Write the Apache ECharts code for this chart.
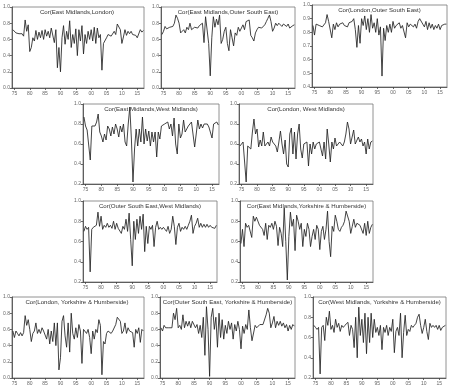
<!DOCTYPE html>
<html>
<head>
<meta charset="utf-8">
<script src="https://cdn.jsdelivr.net/npm/echarts@6/dist/echarts.min.js"></script>
<style>
  html, body { margin: 0; padding: 0; background: #fff; }
  #chart { width: 449px; height: 390px; }
</style>
</head>
<body>
<div id="chart"></div>
<script>
// half-yearly readings, first point 1974.5
const startYear = 1974.5;
const step = 0.5;
const yearTicks = [1975, 1980, 1985, 1990, 1995, 2000, 2005, 2010, 2015];

const titles = [
  'Cor(East Midlands,London)',
  'Cor(East Midlands,Outer South East)',
  'Cor(London,Outer South East)',
  'Cor(East Midlands,West Midlands)',
  'Cor(London, West Midlands)',
  'Cor(Outer South East,West Midlands)',
  'Cor(East Midlands,Yorkshire & Humberside)',
  'Cor(London, Yorkshire & Humberside)',
  'Cor(Outer South East, Yorkshire & Humberside)',
  'Cor(West Midlands, Yorkshire & Humberside)'
];

const emLon = [0.72,0.72,0.68,0.66,0.67,0.65,0.67,0.64,0.84,0.70,0.78,
  0.45,0.50,0.62,0.58,0.71,0.60,0.69,0.62,0.71,0.60,
  0.72,0.64,0.70,0.62,0.74,0.74,0.56,0.72,0.25,0.50,
  0.20,0.62,0.77,0.54,0.70,0.60,0.83,0.50,0.66,0.55,
  0.73,0.40,0.72,0.58,0.77,0.42,0.66,0.55,0.70,0.60,
  0.72,0.58,0.75,0.55,0.74,0.62,0.66,0.22,0.55,0.57,
  0.62,0.66,0.68,0.64,0.63,0.70,0.66,0.79,0.79,0.72,
  0.55,0.63,0.72,0.65,0.70,0.67,0.70,0.66,0.68,0.65,
  0.62,0.63,0.72,0.69,0.71];
const emOse = [0.66,0.70,0.76,0.73,0.74,0.75,0.74,0.76,0.80,0.90,0.86,
  0.80,0.68,0.66,0.72,0.68,0.75,0.72,0.80,0.72,0.74,
  0.75,0.75,0.74,0.77,0.78,0.80,0.56,0.88,0.90,0.55,
  0.15,0.62,0.88,0.75,0.85,0.78,0.90,0.55,0.60,0.70,
  0.75,0.55,0.46,0.72,0.62,0.52,0.68,0.65,0.75,0.70,
  0.68,0.78,0.72,0.82,0.80,0.84,0.65,0.62,0.58,0.68,
  0.72,0.75,0.75,0.74,0.76,0.78,0.82,0.86,0.90,0.82,
  0.70,0.74,0.80,0.77,0.80,0.78,0.76,0.79,0.77,0.76,
  0.79,0.74,0.72,0.77,0.78];
const lonOse = [0.85,0.78,0.86,0.85,0.85,0.85,0.84,0.85,0.87,0.93,0.88,
  0.87,0.76,0.86,0.82,0.87,0.84,0.86,0.85,0.87,0.85,
  0.86,0.84,0.87,0.86,0.88,0.90,0.82,0.69,0.85,0.72,
  0.90,0.85,0.92,0.82,0.90,0.80,0.93,0.83,0.87,0.80,
  0.90,0.78,0.84,0.48,0.83,0.74,0.85,0.80,0.86,0.80,
  0.88,0.83,0.85,0.84,0.87,0.83,0.85,0.84,0.76,0.87,
  0.84,0.86,0.85,0.84,0.86,0.83,0.88,0.90,0.89,0.86,
  0.84,0.88,0.82,0.87,0.83,0.86,0.82,0.85,0.83,0.86,
  0.82,0.85,0.84,0.86,0.86];
const emWm = [0.87,0.78,0.74,0.72,0.44,0.78,0.80,0.78,0.82,0.90,0.72,
  0.68,0.62,0.70,0.64,0.78,0.75,0.68,0.77,0.70,0.80,
  0.75,0.67,0.78,0.72,0.80,0.62,0.58,0.80,0.97,0.65,
  0.22,0.55,0.75,0.58,0.75,0.62,0.87,0.60,0.75,0.63,
  0.73,0.58,0.72,0.62,0.72,0.47,0.72,0.65,0.78,0.76,
  0.80,0.78,0.82,0.75,0.80,0.68,0.86,0.60,0.50,0.80,
  0.66,0.70,0.84,0.72,0.75,0.78,0.80,0.82,0.84,0.57,
  0.70,0.84,0.75,0.80,0.76,0.80,0.78,0.80,0.77,0.78,
  0.66,0.80,0.80,0.82,0.79];
const lonWm = [0.58,0.60,0.62,0.60,0.22,0.58,0.60,0.55,0.72,0.85,0.70,
  0.75,0.57,0.64,0.58,0.72,0.58,0.60,0.62,0.58,0.67,
  0.62,0.64,0.58,0.52,0.62,0.73,0.60,0.50,0.64,0.40,
  0.37,0.70,0.76,0.50,0.72,0.45,0.70,0.80,0.55,0.46,
  0.60,0.62,0.62,0.38,0.60,0.50,0.62,0.55,0.60,0.58,
  0.62,0.60,0.48,0.62,0.45,0.75,0.60,0.42,0.62,0.55,
  0.66,0.58,0.60,0.62,0.60,0.58,0.62,0.70,0.82,0.75,
  0.60,0.62,0.74,0.60,0.58,0.67,0.62,0.65,0.58,0.62,
  0.50,0.65,0.55,0.62,0.63];
const oseWm = [0.70,0.75,0.72,0.74,0.30,0.72,0.74,0.74,0.76,0.89,0.75,
  0.85,0.72,0.76,0.74,0.78,0.74,0.76,0.73,0.80,0.72,
  0.78,0.73,0.74,0.68,0.75,0.72,0.82,0.70,0.88,0.62,
  0.36,0.80,0.62,0.82,0.68,0.85,0.72,0.87,0.50,0.75,
  0.58,0.75,0.72,0.76,0.55,0.74,0.80,0.72,0.74,0.72,
  0.74,0.72,0.70,0.75,0.68,0.72,0.85,0.75,0.57,0.74,
  0.78,0.70,0.74,0.72,0.75,0.72,0.76,0.80,0.86,0.68,
  0.75,0.78,0.83,0.74,0.78,0.74,0.77,0.74,0.77,0.74,
  0.76,0.74,0.75,0.73,0.76];
const emYh = [0.58,0.72,0.55,0.78,0.74,0.76,0.75,0.64,0.85,0.80,0.84,
  0.83,0.76,0.75,0.72,0.66,0.78,0.62,0.76,0.74,0.78,
  0.72,0.80,0.75,0.56,0.74,0.68,0.55,0.93,0.60,0.22,
  0.65,0.89,0.75,0.82,0.51,0.86,0.80,0.72,0.78,0.55,
  0.72,0.65,0.78,0.72,0.55,0.65,0.72,0.62,0.76,0.72,
  0.52,0.70,0.75,0.62,0.72,0.90,0.60,0.45,0.75,0.70,
  0.86,0.80,0.72,0.70,0.74,0.76,0.80,0.90,0.91,0.80,
  0.68,0.75,0.82,0.74,0.78,0.77,0.76,0.76,0.68,0.78,
  0.66,0.80,0.68,0.74,0.77];
const lonYh = [0.58,0.50,0.58,0.55,0.52,0.56,0.52,0.56,0.77,0.65,0.72,
  0.60,0.45,0.55,0.58,0.68,0.55,0.60,0.55,0.62,0.58,
  0.60,0.48,0.60,0.42,0.58,0.45,0.68,0.40,0.68,0.10,
  0.25,0.70,0.77,0.52,0.38,0.68,0.32,0.80,0.55,0.48,
  0.62,0.50,0.66,0.58,0.18,0.60,0.58,0.55,0.60,0.50,
  0.30,0.58,0.48,0.60,0.56,0.72,0.65,0.04,0.45,0.42,
  0.55,0.58,0.57,0.55,0.58,0.60,0.66,0.75,0.77,0.70,
  0.55,0.58,0.68,0.55,0.62,0.58,0.60,0.56,0.38,0.60,
  0.55,0.62,0.44,0.60,0.58];
const oseYh = [0.62,0.58,0.65,0.62,0.63,0.62,0.64,0.62,0.80,0.72,0.86,
  0.62,0.65,0.60,0.78,0.62,0.70,0.64,0.70,0.62,0.70,
  0.68,0.62,0.66,0.55,0.65,0.50,0.75,0.28,0.88,0.60,
  0.02,0.75,0.86,0.60,0.75,0.38,0.80,0.50,0.72,0.48,
  0.65,0.55,0.70,0.60,0.68,0.48,0.66,0.58,0.70,0.60,
  0.36,0.64,0.55,0.66,0.60,0.84,0.62,0.46,0.45,0.65,
  0.62,0.64,0.66,0.65,0.66,0.68,0.78,0.86,0.80,0.62,
  0.68,0.76,0.62,0.70,0.65,0.70,0.64,0.68,0.62,0.66,
  0.58,0.65,0.60,0.66,0.64];
const wmYh = [0.72,0.70,0.68,0.70,0.24,0.70,0.72,0.57,0.80,0.72,0.86,
  0.68,0.72,0.65,0.78,0.70,0.74,0.66,0.72,0.70,0.72,
  0.72,0.75,0.62,0.72,0.68,0.50,0.80,0.40,0.90,0.62,
  0.78,0.55,0.84,0.44,0.80,0.55,0.84,0.60,0.78,0.65,
  0.70,0.62,0.72,0.48,0.70,0.65,0.72,0.62,0.70,0.66,
  0.78,0.45,0.66,0.70,0.62,0.84,0.40,0.65,0.82,0.62,
  0.68,0.66,0.72,0.70,0.72,0.74,0.80,0.83,0.72,0.64,
  0.70,0.78,0.66,0.58,0.74,0.70,0.72,0.70,0.72,0.68,
  0.72,0.67,0.70,0.71,0.72];

const seriesData = [emLon, emOse, lonOse, emWm, lonWm, oseWm, emYh, lonYh, oseYh, wmYh];
const yMins = [0, 0, 0.4, 0.2, 0.2, 0.2, 0.2, 0, 0, 0.2];
const yIntervals = [0.2, 0.2, 0.1, 0.2, 0.2, 0.2, 0.2, 0.2, 0.2, 0.2];

// plot boxes: left, top, width, height
const boxes = [
  [10, 7, 134, 81], [161, 7, 134, 81], [312, 5, 135, 82],
  [83, 104, 136, 80], [239, 104, 134, 80],
  [83, 201, 134, 81], [240, 201, 133, 81],
  [10, 297, 134, 81], [160, 297, 135, 81], [313, 297, 133, 81]
];

const font = 'Liberation Sans, Arial, sans-serif';
const grid = [], xAxis = [], yAxis = [], series = [], title = [];

boxes.forEach(function (b, i) {
  grid.push({ left: b[0], top: b[1], width: b[2], height: b[3],
    show: true, borderColor: '#777', borderWidth: 0.8, backgroundColor: '#fff' });
  xAxis.push({
    gridIndex: i, type: 'value', min: 1974.2, max: 2017.2,
    axisLine: { show: true, lineStyle: { color: '#444', width: 0.8 } },
    axisTick: { show: true, length: 2, customValues: yearTicks, lineStyle: { color: '#444', width: 0.8 } },
    axisLabel: { customValues: yearTicks, fontSize: 5, color: '#666', margin: 3, fontFamily: font,
      formatter: function (v) { return String(Math.round(v)).slice(2); } },
    splitLine: { show: false }
  });
  yAxis.push({
    gridIndex: i, type: 'value', min: yMins[i], max: 1, interval: yIntervals[i],
    axisLine: { show: true, lineStyle: { color: '#444', width: 0.8 } },
    axisTick: { show: true, length: 2, lineStyle: { color: '#444', width: 0.8 } },
    axisLabel: { fontSize: 5, color: '#666', margin: 2, fontFamily: font,
      formatter: function (v) { return v.toFixed(1); } },
    splitLine: { show: false }
  });
  series.push({
    type: 'line', xAxisIndex: i, yAxisIndex: i, showSymbol: false, animation: false,
    lineStyle: { color: '#222', width: 0.85 },
    data: seriesData[i].map(function (v, k) { return [startYear + k * step, v]; })
  });
  title.push({
    text: titles[i], left: b[0] + b[2] / 2, top: b[1] + 2, textAlign: 'center', padding: 0,
    textStyle: { fontSize: 6.1, fontWeight: 'normal', color: '#333', fontFamily: font }
  });
});

const chart = echarts.init(document.getElementById('chart'));
chart.setOption({ animation: false, title: title, grid: grid, xAxis: xAxis, yAxis: yAxis, series: series });
</script>
</body>
</html>
